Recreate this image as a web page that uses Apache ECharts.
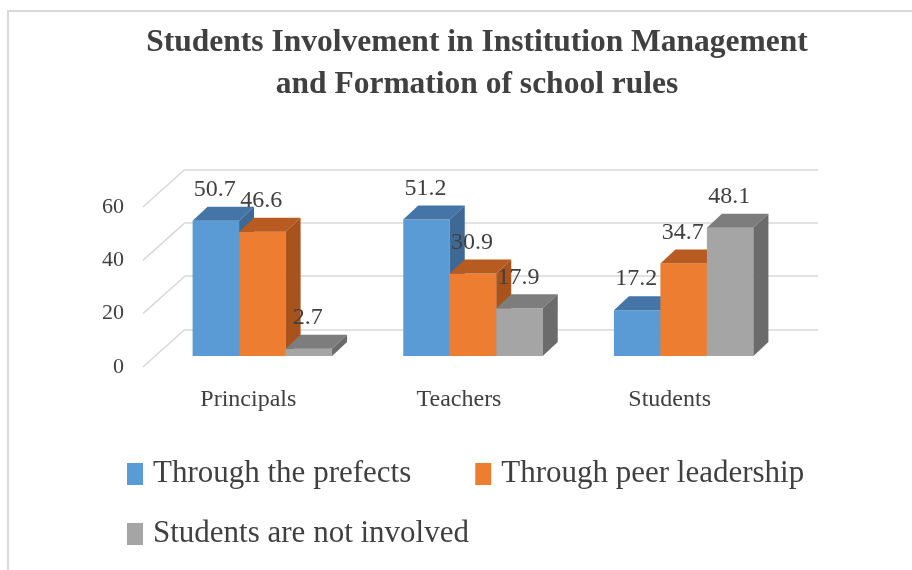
<!doctype html>
<html lang="en">
<head>
  <meta charset="UTF-8">
  <script src="https://cdn.jsdelivr.net/npm/echarts@6/dist/echarts.min.js"></script>
  <title>Students Involvement</title>
  <style type="text/css">
    html, body {
      width: 100%;
      height: 100%;
      margin: 0;
      padding: 0;
      background: #ffffff;
    }

    #canvas {
      width: 912px;
      height: 570px;
    }
  </style>
</head>

<body>
<div id="canvas"></div>

<script type="text/javascript">
  const categories = ['Principals', 'Teachers', 'Students']
  const prefects = [50.7, 51.2, 17.2]
  const peerLeadership = [46.6, 30.9, 34.7]
  const notInvolved = [2.7, 17.9, 48.1]
  const yTicks = [0, 20, 40, 60]

  const seriesNames = ['Through the prefects', 'Through peer leadership', 'Students are not involved']
  const faceColors = [
    { front: '#5b9bd5', top: '#4475a6', side: '#3d6994' },
    { front: '#ed7d31', top: '#b85b20', side: '#a8521c' },
    { front: '#a5a5a5', top: '#7d7d7d', side: '#6b6b6b' }
  ]

  const font = 'Liberation Serif'
  const textColor = '#404040'
  const gridColor = '#d9d9d9'

  // depth of the 3D box (bars) and of the whole plot (walls)
  const barDepth = [15, -14]
  const wallDepth = [-42, 37.7]

  const chart = echarts.init(document.getElementById('canvas'))

  const barSeries = (values, idx) => ({
    type: 'custom',
    name: seriesNames[idx],
    xAxisIndex: 2,
    yAxisIndex: 2,
    itemStyle: { color: faceColors[idx].front },
    data: values.map((v, i) => [i, v]),
    renderItem: (params, api) => {
      const cat = api.value(0)
      const v = api.value(1)
      const top = api.coord([cat, v])
      const base = api.coord([cat, 0])
      const band = api.size([1, 0])[0]
      const w = band * 0.2207
      const x0 = top[0] + (idx - 1.5) * w
      const x1 = x0 + w
      const y0 = base[1]
      const y1 = top[1]
      const dx = barDepth[0]
      const dy = barDepth[1]
      const c = faceColors[idx]
      return {
        type: 'group',
        children: [
          {
            type: 'rect',
            shape: { x: x0, y: y1, width: w, height: y0 - y1 },
            style: { fill: c.front }
          },
          {
            type: 'polygon',
            shape: { points: [[x0, y1], [x0 + dx, y1 + dy], [x1 + dx, y1 + dy], [x1, y1]] },
            style: { fill: c.top }
          },
          {
            type: 'polygon',
            shape: { points: [[x1, y1], [x1 + dx, y1 + dy], [x1 + dx, y0 + dy], [x1, y0]] },
            style: { fill: c.side }
          },
          {
            type: 'text',
            z2: 100,
            style: {
              text: String(v),
              x: x0 + w / 2 - 1,
              y: y1 + dy - 17,
              align: 'center',
              verticalAlign: 'middle',
              fontFamily: font,
              fontSize: 24,
              fill: textColor
            }
          }
        ]
      }
    }
  })

  chart.setOption({
    animation: false,
    backgroundColor: '#ffffff',
    title: {
      text: 'Students Involvement in Institution Management\nand Formation of school rules',
      left: 472,
      top: 17,
      textAlign: 'center',
      textStyle: {
        fontFamily: font,
        fontSize: 31.5,
        fontWeight: 'bold',
        lineHeight: 42,
        color: textColor
      }
    },
    graphic: [
      {
        type: 'rect',
        shape: { x: 8, y: 11, width: 1000, height: 1000 },
        style: { fill: 'none', stroke: gridColor, lineWidth: 2 },
        silent: true
      }
    ],
    legend: [
      {
        data: seriesNames.slice(0, 2),
        left: 122,
        top: 452,
        icon: 'rect',
        itemWidth: 16,
        itemHeight: 22,
        itemGap: 64,
        textStyle: { fontFamily: font, fontSize: 31, lineHeight: 34, color: textColor, padding: [0, 0, 0, 5] }
      },
      {
        data: seriesNames.slice(2),
        left: 122,
        top: 512,
        icon: 'rect',
        itemWidth: 16,
        itemHeight: 22,
        textStyle: { fontFamily: font, fontSize: 31, lineHeight: 34, color: textColor, padding: [0, 0, 0, 5] }
      }
    ],
    grid: [
      // back wall
      { left: 185, right: 94, top: 169.3, bottom: 240.7 },
      // front edge of the plot (axis labels)
      { left: 143, right: 137, top: 207, bottom: 203 },
      // front plane of the bars
      { left: 157, right: 123, top: 196, bottom: 214 }
    ],
    xAxis: [
      { gridIndex: 0, type: 'value', min: 0, max: 1, show: false },
      {
        gridIndex: 1,
        type: 'category',
        data: categories,
        axisLine: { show: false },
        axisTick: { show: false },
        axisLabel: { margin: 21, fontFamily: font, fontSize: 24, color: textColor }
      },
      { gridIndex: 2, type: 'category', data: categories, show: false }
    ],
    yAxis: [
      {
        gridIndex: 0,
        type: 'value',
        min: 0,
        max: 60,
        interval: 20,
        axisLabel: { show: false },
        axisLine: { show: false },
        axisTick: { show: false },
        splitLine: { lineStyle: { color: gridColor, width: 1.5 } }
      },
      {
        gridIndex: 1,
        type: 'value',
        min: 0,
        max: 60,
        interval: 20,
        axisLine: { show: false },
        axisTick: { show: false },
        splitLine: { show: false },
        axisLabel: { margin: 19, fontFamily: font, fontSize: 22, color: textColor }
      },
      { gridIndex: 2, type: 'value', min: 0, max: 60, show: false }
    ],
    series: [
      {
        type: 'custom',
        xAxisIndex: 0,
        yAxisIndex: 0,
        silent: true,
        data: yTicks.map(t => [0, t]),
        renderItem: (params, api) => {
          const p = api.coord([0, api.value(1)])
          return {
            type: 'line',
            shape: { x1: p[0], y1: p[1], x2: p[0] + wallDepth[0], y2: p[1] + wallDepth[1] },
            style: { stroke: gridColor, lineWidth: 1.5 }
          }
        }
      },
      barSeries(prefects, 0),
      barSeries(peerLeadership, 1),
      barSeries(notInvolved, 2)
    ]
  })
</script>
</body>
</html>
